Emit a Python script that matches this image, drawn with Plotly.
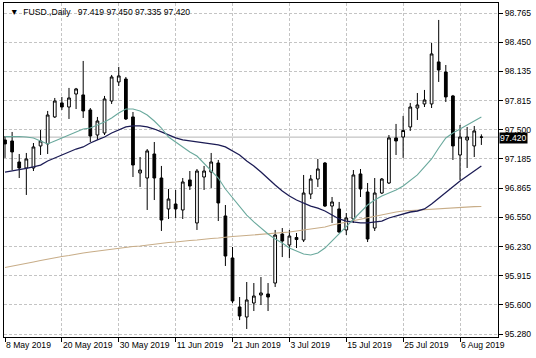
import plotly.graph_objects as go
import pandas as pd

# ---- data ----
dates = [d.strftime("%Y-%m-%d") for d in pd.bdate_range("2019-05-08", "2019-08-09")]

open_ = [97.389, 97.378, 97.150, 97.085, 97.085, 97.324, 97.346, 97.639, 97.791, 97.747,
         97.888, 97.878, 97.715, 97.443, 97.465, 97.812, 98.019, 98.051, 97.639, 97.031,
         96.976, 97.237, 96.976, 96.640, 96.694, 96.629, 96.955, 96.488, 96.987, 97.041,
         97.139, 96.564, 96.108, 95.576, 95.467, 95.619, 95.706, 95.717, 95.836, 96.368,
         96.249, 96.330, 96.303, 96.802, 96.965, 97.139, 96.672, 96.640, 96.412, 96.531,
         97.020, 96.824, 96.433, 96.813, 96.922, 97.411, 97.421, 97.530, 97.736, 97.780,
         97.780, 98.236, 98.127, 97.867, 97.226, 97.389, 97.324, 97.419]
high = [97.432, 97.476, 97.237, 97.248, 97.356, 97.497, 97.704, 97.845, 97.856, 97.954,
        97.954, 98.247, 97.736, 97.639, 97.867, 98.095, 98.182, 98.073, 97.693, 97.204,
        97.291, 97.367, 97.107, 96.857, 96.846, 96.976, 97.052, 97.074, 97.107, 97.248,
        97.172, 96.683, 96.227, 95.684, 95.847, 95.836, 95.901, 95.836, 96.412, 96.433,
        96.412, 96.379, 97.009, 97.009, 97.183, 97.150, 96.770, 96.716, 96.596, 97.063,
        97.074, 96.922, 96.976, 96.976, 97.443, 97.563, 97.650, 97.791, 97.899, 97.932,
        98.442, 98.692, 98.203, 97.878, 97.552, 97.530, 97.541, 97.450]
low = [97.194, 97.063, 96.976, 96.792, 97.052, 97.226, 97.237, 97.628, 97.715, 97.617,
       97.725, 97.628, 97.367, 97.389, 97.443, 97.780, 97.975, 97.606, 96.987, 96.879,
       96.629, 96.737, 96.401, 96.531, 96.542, 96.531, 96.846, 96.412, 96.846, 96.868,
       96.509, 96.021, 95.619, 95.434, 95.337, 95.532, 95.597, 95.532, 95.793, 96.118,
       96.108, 96.216, 96.281, 96.748, 96.879, 96.661, 96.488, 96.379, 96.357, 96.488,
       96.770, 96.281, 96.401, 96.802, 96.911, 97.226, 97.194, 97.487, 97.606, 97.747,
       97.736, 98.019, 97.801, 97.172, 96.955, 97.085, 97.204, 97.335]
close = [97.346, 97.259, 97.085, 97.183, 97.313, 97.378, 97.660, 97.812, 97.747, 97.845,
         97.943, 97.704, 97.432, 97.595, 97.834, 98.073, 98.084, 97.617, 97.117, 97.063,
         97.270, 96.976, 96.520, 96.748, 96.640, 96.933, 96.889, 97.052, 97.052, 97.150,
         96.705, 96.129, 95.641, 95.478, 95.652, 95.695, 95.728, 95.684, 96.357, 96.292,
         96.346, 96.308, 96.813, 96.965, 97.074, 96.672, 96.716, 96.390, 96.542, 97.009,
         96.857, 96.314, 96.813, 96.965, 97.411, 97.378, 97.492, 97.747, 97.769, 97.823,
         98.323, 98.149, 97.856, 97.324, 97.421, 97.421, 97.487, 97.420]

ma_fast = [97.425, 97.427, 97.427, 97.421, 97.411, 97.378, 97.346, 97.378, 97.411, 97.443,
           97.476, 97.508, 97.519, 97.552, 97.584, 97.628, 97.682, 97.725, 97.725, 97.704,
           97.660, 97.595, 97.519, 97.421, 97.367, 97.313, 97.259, 97.215, 97.139, 97.063,
           96.976, 96.857, 96.759, 96.672, 96.574, 96.499, 96.433, 96.368, 96.314, 96.271,
           96.216, 96.184, 96.151, 96.140, 96.162, 96.216, 96.292, 96.379, 96.455, 96.531,
           96.607, 96.683, 96.737, 96.781, 96.813, 96.846, 96.889, 96.944, 97.009, 97.096,
           97.183, 97.302, 97.411, 97.465, 97.508, 97.552, 97.595, 97.639]
ma_mid = [97.041, 97.052, 97.063, 97.080, 97.096, 97.117, 97.161, 97.194, 97.226, 97.259,
          97.291, 97.313, 97.356, 97.389, 97.421, 97.465, 97.497, 97.530, 97.541, 97.541,
          97.530, 97.508, 97.476, 97.443, 97.411, 97.389, 97.378, 97.367, 97.356, 97.346,
          97.335, 97.313, 97.270, 97.226, 97.161, 97.107, 97.041, 96.965, 96.900, 96.835,
          96.781, 96.737, 96.705, 96.672, 96.650, 96.618, 96.574, 96.531, 96.509, 96.499,
          96.488, 96.488, 96.499, 96.509, 96.542, 96.564, 96.585, 96.607, 96.618, 96.640,
          96.694, 96.759, 96.824, 96.879, 96.944, 96.998, 97.052, 97.107]
ma_slow = [96.004, 96.021, 96.037, 96.053, 96.064, 96.080, 96.097, 96.108, 96.124, 96.135,
           96.151, 96.162, 96.173, 96.184, 96.189, 96.200, 96.211, 96.222, 96.233, 96.238,
           96.249, 96.260, 96.271, 96.276, 96.281, 96.292, 96.298, 96.303, 96.314, 96.319,
           96.325, 96.336, 96.341, 96.346, 96.352, 96.357, 96.363, 96.368, 96.374, 96.379,
           96.390, 96.401, 96.412, 96.423, 96.433, 96.444, 96.466, 96.482, 96.499, 96.509,
           96.531, 96.547, 96.564, 96.580, 96.596, 96.607, 96.618, 96.623, 96.629, 96.634,
           96.640, 96.645, 96.650, 96.656, 96.661, 96.661, 96.665, 96.667]

y_ticks = [95.280, 95.600, 95.915, 96.230, 96.550, 96.865, 97.185, 97.500, 97.815, 98.135, 98.450, 98.765]
x_tick_idx = [0, 8, 16, 24, 32, 40, 48, 56, 64]
x_tick_labels = ["8 May 2019", "20 May 2019", "30 May 2019", "11 Jun 2019", "21 Jun 2019",
                 "3 Jul 2019", "15 Jul 2019", "25 Jul 2019", "6 Aug 2019"]
symbol = "FUSD.,Daily"
last_bar = (open_[-1], high[-1], low[-1], close[-1])
last_price = close[-1]

FONT = "Liberation Sans, Arial, sans-serif"
FS = 8.6
GRID = "#c4c4c4"
NB = "\u00a0"

fig = go.Figure()
fig.add_trace(go.Candlestick(
    x=dates, open=open_, high=high, low=low, close=close,
    increasing=dict(fillcolor="white", line=dict(color="black", width=1)),
    decreasing=dict(fillcolor="black", line=dict(color="black", width=1)),
    whiskerwidth=0, showlegend=False, hoverinfo="skip",
))
fig.add_trace(go.Scatter(x=dates, y=ma_slow, mode="lines",
                         line=dict(color="#c8ad88", width=1.1), showlegend=False, hoverinfo="skip"))
fig.add_trace(go.Scatter(x=dates, y=ma_mid, mode="lines",
                         line=dict(color="#1c1c55", width=1.3), showlegend=False, hoverinfo="skip"))
fig.add_trace(go.Scatter(x=dates, y=ma_fast, mode="lines",
                         line=dict(color="#6aa99d", width=1.1), showlegend=False, hoverinfo="skip"))

fig.add_hline(y=last_price, line=dict(color="#b4b4b4", width=1), layer="below")

fig.add_annotation(x=1, xref="paper", y=last_price, yref="y", xanchor="left", yanchor="middle",
                   text="%.3f" % last_price, showarrow=False, bgcolor="black",
                   font=dict(family=FONT, size=FS, color="white"), borderpad=0, xshift=1, yshift=-1)
header = ("▼" + NB * 2 + symbol + NB * 3 + " ".join("%.3f" % v for v in last_bar))
fig.add_annotation(x=0, xref="paper", y=1, yref="paper", xanchor="left", yanchor="top",
                   text=header, showarrow=False,
                   font=dict(family=FONT, size=FS, color="black"), xshift=4, yshift=-2)

fig.update_layout(
    width=536, height=358, margin=dict(l=4, r=38, t=3, b=21),
    paper_bgcolor="white", plot_bgcolor="white", boxgap=0.45,
    font=dict(family=FONT, size=FS, color="black"),
    xaxis=dict(type="category", categoryorder="array", categoryarray=dates,
               range=[-0.14, 69.34], rangeslider=dict(visible=False),
               tickvals=[dates[i] for i in x_tick_idx], ticktext=x_tick_labels,
               tickangle=0,
               showgrid=True, gridcolor=GRID, griddash="3px,2px", gridwidth=1,
               showline=True, mirror=True, linecolor="black", linewidth=1,
               ticks="outside", ticklen=4, tickcolor="black", ticklabelposition="outside right",
               tickfont=dict(family=FONT, size=FS), zeroline=False, fixedrange=True),
    yaxis=dict(side="right", range=[95.250, 98.876],
               tickvals=y_ticks, ticktext=["%.3f" % v for v in y_ticks],
               showgrid=True, gridcolor=GRID, griddash="3px,2px", gridwidth=1,
               showline=True, mirror=True, linecolor="black", linewidth=1,
               ticks="outside", ticklen=4, tickcolor="black",
               tickfont=dict(family=FONT, size=FS), zeroline=False, fixedrange=True),
)

fig.write_html("out.html", config={"displayModeBar": False})
